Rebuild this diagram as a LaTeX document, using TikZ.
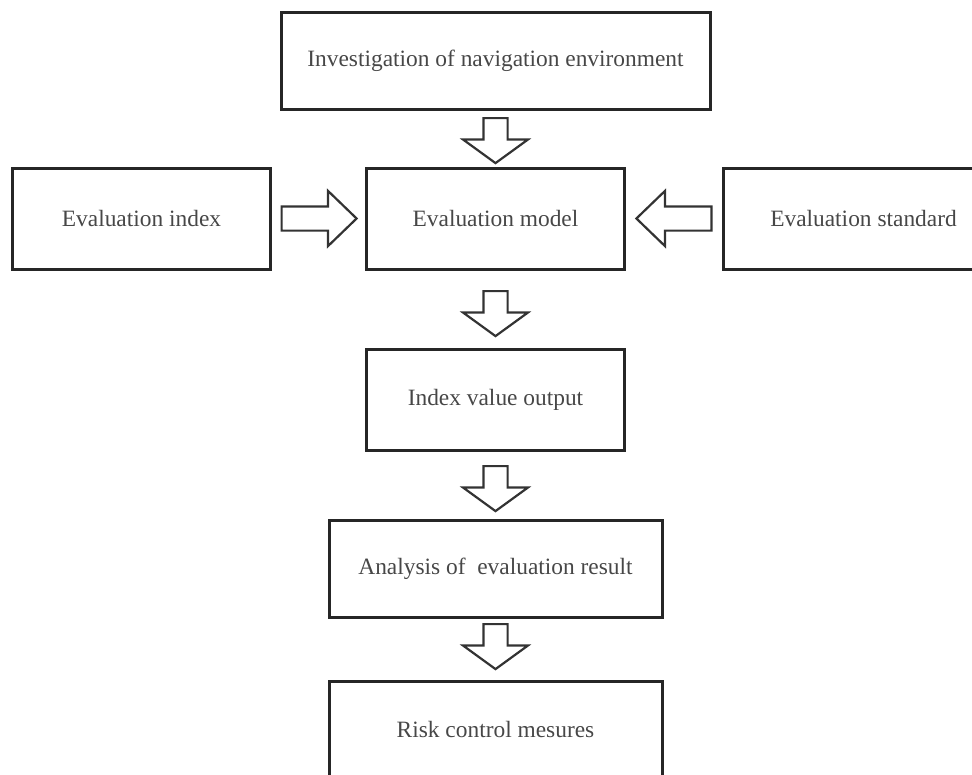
\documentclass[tikz,border=0pt]{standalone}
\usepackage{fontspec}
\setmainfont{Liberation Serif}
\usetikzlibrary{positioning,calc,shapes.arrows}

\begin{document}
\begin{tikzpicture}[
  x=1pt, y=-1pt,
  font=\fontsize{23.4}{28}\selectfont,
  box/.style={draw=black!85, line width=3pt, text=black!72, inner sep=0pt, outer sep=0pt, minimum height=97pt},
  rowbox/.style={box, minimum width=258pt, minimum height=101pt},
  downarrow/.style={single arrow, draw=black!80, line width=2.2pt, fill=white, inner xsep=0pt, inner ysep=11pt,
    minimum height=45pt, minimum width=1pt, single arrow head extend=20.5pt, single arrow tip angle=108,
    anchor=tail, rotate=-90},
  sidearrow/.style={single arrow, draw=black!80, line width=2.2pt, fill=white, inner xsep=0pt, inner ysep=11pt,
    minimum height=75pt, minimum width=1pt, single arrow head extend=15.5pt, single arrow tip angle=88,
    anchor=tail}
]
\useasboundingbox (0,0) rectangle (972,774);
\node[box, minimum width=429pt] (invest) at (495.5,60.5) {Investigation of navigation environment};
\node[rowbox, below=59pt of invest] (model) {Evaluation model};
\node[rowbox, left=96pt of model] (index) {Evaluation index};
\node[rowbox, minimum width=280pt, right=99pt of model] (standard) {Evaluation standard};
\node[rowbox, below=80pt of model] (output) {Index value output};
\node[box, minimum width=333pt, below=70pt of output] (result) {Analysis of\ \ evaluation result};
\node[box, minimum width=333pt, below=64pt of result] (risk) {Risk control mesures};
% block arrows between the boxes
\node[downarrow] (a1) at ($(invest.south)+(0,8)$) {};
\node[downarrow] (a2) at ($(model.south)+(0,21)$) {};
\node[downarrow] (a3) at ($(output.south)+(0,15)$) {};
\node[downarrow] (a4) at ($(result.south)+(0,6)$) {};
\node[sidearrow] (a5) at ($(index.east)+(10,0)$) {};
\node[sidearrow, rotate=180] (a6) at ($(standard.west)+(-11,0)$) {};
\end{tikzpicture}
\end{document}
